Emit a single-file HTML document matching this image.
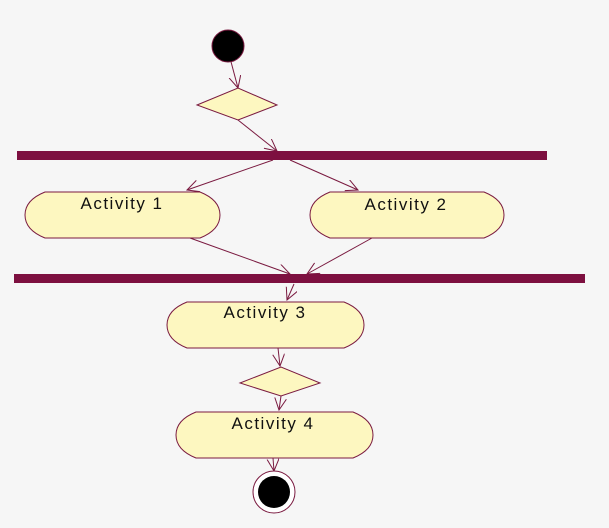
<!DOCTYPE html>
<html><head><style>
html,body{margin:0;padding:0;background:#f6f6f6;}
svg{display:block;}
text{font-family:"Liberation Sans",sans-serif;font-size:17px;fill:#111;letter-spacing:1.5px;}
</style></head><body>
<svg width="609" height="528" viewBox="0 0 609 528" xmlns="http://www.w3.org/2000/svg">
<defs>
<marker id="a" markerWidth="14" markerHeight="14" refX="12" refY="6" orient="auto" markerUnits="userSpaceOnUse">
<path d="M0,0 L12,6 L0,12" fill="none" stroke="#7a1a40" stroke-width="1"/>
</marker>
</defs>
<g stroke="#7a1a40" stroke-width="1" fill="none">
<line x1="230" y1="58" x2="238" y2="88" marker-end="url(#a)"/>
<line x1="238" y1="120" x2="277" y2="151" marker-end="url(#a)"/>
<line x1="273" y1="160" x2="187" y2="190" marker-end="url(#a)"/>
<line x1="290" y1="160" x2="358" y2="190" marker-end="url(#a)"/>
<line x1="190" y1="238" x2="290" y2="274" marker-end="url(#a)"/>
<line x1="372" y1="238" x2="307" y2="274" marker-end="url(#a)"/>
<line x1="294" y1="284" x2="287" y2="300" marker-end="url(#a)"/>
<line x1="278" y1="348" x2="280" y2="366" marker-end="url(#a)"/>
<line x1="281" y1="396" x2="279" y2="410" marker-end="url(#a)"/>
<line x1="273" y1="458" x2="274" y2="471" marker-end="url(#a)"/>
</g>
<circle cx="228" cy="46" r="16" fill="#000" stroke="#7a1a40"/>
<polygon points="197,105 238,88 277,105 238,120" fill="#fdf7c0" stroke="#7a1a40"/>
<rect x="17" y="151" width="530" height="9" fill="#7d1040"/>
<rect x="14" y="274" width="571" height="9" fill="#7d1040"/>
<g fill="#fdf7c0" stroke="#7a1a40">
<path d="M45,192 H200 Q220,200 220,215 Q220,230 200,238 H45 Q25,230 25,215 Q25,200 45,192 Z"/>
<path d="M330,192 H484 Q504,200 504,215 Q504,230 484,238 H330 Q310,230 310,215 Q310,200 330,192 Z"/>
<path d="M187,302 H344 Q364,310 364,325 Q364,340 344,348 H187 Q167,340 167,325 Q167,310 187,302 Z"/>
<polygon points="240,383 281,367 320,383 281,396"/>
<path d="M196,412 H353 Q373,420 373,435 Q373,450 353,458 H196 Q176,450 176,435 Q176,420 196,412 Z"/>
</g>
<text x="122" y="209" text-anchor="middle">Activity 1</text>
<text x="406" y="210" text-anchor="middle">Activity 2</text>
<text x="265" y="318" text-anchor="middle">Activity 3</text>
<text x="273" y="429" text-anchor="middle">Activity 4</text>
<circle cx="274" cy="492" r="21" fill="#fff" stroke="#7a1a40"/>
<circle cx="274" cy="492" r="16" fill="#000"/>
</svg>
</body></html>
